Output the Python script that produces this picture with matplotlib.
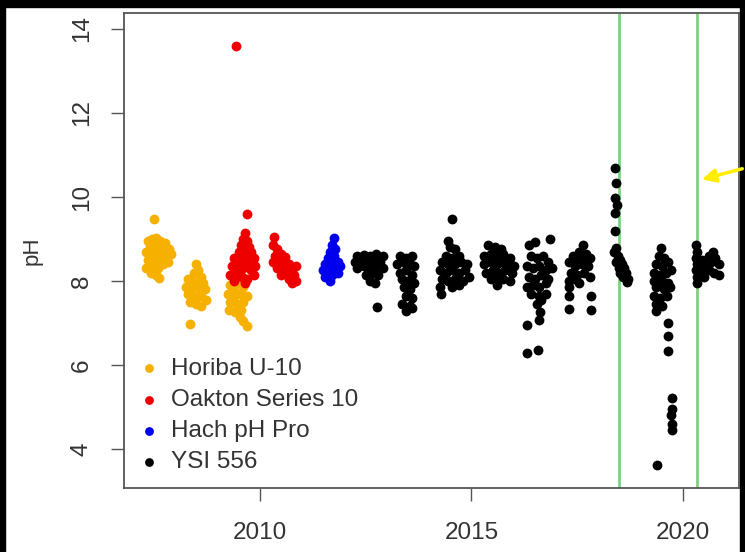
import matplotlib.pyplot as plt
from matplotlib.patches import Rectangle

plt.rcParams['font.family'] = ['Liberation Sans', 'DejaVu Sans']

# decimal year, pH for each instrument
horiba_year = [2007.49, 2007.35, 2007.45, 2007.55, 2007.65, 2007.75, 2007.3, 2007.4, 2007.5, 2007.6,
               2007.7, 2007.85, 2007.35, 2007.45, 2007.55, 2007.65, 2007.8, 2007.9, 2007.3, 2007.4,
               2007.5, 2007.6, 2007.7, 2007.82, 2007.42, 2007.55, 2007.62, 2007.38, 2007.58, 2007.75,
               2008.49, 2008.55, 2008.45, 2008.6, 2008.3, 2008.4, 2008.5, 2008.65, 2008.25, 2008.35,
               2008.55, 2008.7, 2008.3, 2008.45, 2008.6, 2008.72, 2008.35, 2008.5, 2008.62, 2008.35,
               2008.42, 2008.58, 2008.38,
               2009.35, 2009.5, 2009.65, 2009.3, 2009.45, 2009.6, 2009.25, 2009.4, 2009.55, 2009.7,
               2009.3, 2009.45, 2009.6, 2009.28, 2009.42, 2009.55, 2009.6, 2009.7, 2009.52, 2009.38]
horiba_ph = [9.48, 8.95, 9.0, 9.02, 8.95, 8.9, 8.7, 8.8, 8.75, 8.7,
             8.8, 8.75, 8.5, 8.6, 8.55, 8.5, 8.6, 8.65, 8.3, 8.35,
             8.4, 8.3, 8.4, 8.45, 8.2, 8.15, 8.07, 8.62, 8.88, 8.6,
             8.4, 8.25, 8.2, 8.1, 8.05, 8.0, 7.95, 7.95, 7.85, 7.8,
             7.85, 7.8, 7.7, 7.65, 7.65, 7.55, 7.5, 7.45, 7.4, 6.97,
             7.9, 7.72, 7.6,
             8.1, 8.15, 8.05, 7.9, 7.95, 7.85, 7.7, 7.75, 7.7, 7.65,
             7.5, 7.45, 7.5, 7.3, 7.25, 7.3, 7.05, 6.92, 7.15, 7.62]

oakton_year = [2009.43, 2009.69, 2009.65, 2009.6, 2009.7, 2009.55, 2009.75, 2009.5, 2009.62, 2009.78,
               2009.4, 2009.55, 2009.7, 2009.85, 2009.35, 2009.48, 2009.6, 2009.72, 2009.88, 2009.3,
               2009.45, 2009.58, 2009.7, 2009.85, 2009.4, 2009.65, 2009.52, 2009.66, 2009.8,
               2010.33, 2010.3, 2010.4, 2010.35, 2010.5, 2010.3, 2010.45, 2010.6, 2010.7, 2010.4,
               2010.55, 2010.75, 2010.85, 2010.5, 2010.65, 2010.8, 2010.7, 2010.85, 2010.75, 2010.6]
oakton_ph = [13.6, 9.6, 9.15, 9.0, 8.95, 8.85, 8.8, 8.7, 8.65, 8.7,
             8.55, 8.5, 8.5, 8.55, 8.35, 8.4, 8.3, 8.35, 8.35, 8.15,
             8.2, 8.1, 8.05, 8.15, 8.0, 7.95, 8.6, 8.78, 8.25,
             9.05, 8.85, 8.75, 8.6, 8.65, 8.45, 8.5, 8.45, 8.4, 8.3,
             8.3, 8.3, 8.35, 8.15, 8.2, 8.15, 8.05, 8.0, 7.95, 8.58]

hach_year = [2011.75, 2011.7, 2011.65, 2011.6, 2011.75, 2011.55, 2011.7, 2011.85, 2011.5, 2011.6,
             2011.8, 2011.9, 2011.55, 2011.7, 2011.85, 2011.65, 2011.78]
hach_ph = [9.02, 8.85, 8.7, 8.55, 8.6, 8.4, 8.45, 8.45, 8.25, 8.3,
           8.3, 8.35, 8.1, 8.15, 8.2, 8.0, 8.75]

ysi_year = [2012.3, 2012.45, 2012.6, 2012.75, 2012.9, 2012.25, 2012.4, 2012.55, 2012.7, 2012.85,
            2012.3, 2012.45, 2012.6, 2012.75, 2012.9, 2012.5, 2012.65, 2012.8, 2012.6, 2012.72, 2012.77,
            2013.3, 2013.45, 2013.6, 2013.25, 2013.4, 2013.55, 2013.65, 2013.3, 2013.45, 2013.6,
            2013.35, 2013.5, 2013.65, 2013.4, 2013.55, 2013.45, 2013.6, 2013.35, 2013.55, 2013.45, 2013.6,
            2014.54, 2014.45, 2014.5, 2014.6, 2014.4, 2014.55, 2014.7, 2014.3, 2014.45, 2014.6,
            2014.75, 2014.9, 2014.25, 2014.4, 2014.55, 2014.7, 2014.85, 2014.3, 2014.45, 2014.6,
            2014.8, 2014.95, 2014.25, 2014.55, 2014.7, 2014.28,
            2015.4, 2015.55, 2015.7, 2015.3, 2015.45, 2015.6, 2015.75, 2015.9, 2015.3, 2015.45,
            2015.6, 2015.75, 2015.9, 2016.0, 2015.35, 2015.5, 2015.65, 2015.8, 2015.95, 2015.45,
            2015.6, 2015.75, 2015.9, 2015.6,
            2016.5, 2016.86, 2016.35, 2016.4, 2016.55, 2016.7, 2016.8, 2016.3, 2016.45, 2016.6,
            2016.75, 2016.9, 2016.35, 2016.5, 2016.65, 2016.8, 2016.3, 2016.45, 2016.6, 2016.75,
            2016.4, 2016.6, 2016.75, 2016.55, 2016.65, 2016.62, 2016.6, 2016.32, 2016.32, 2016.58,
            2017.64, 2017.55, 2017.7, 2017.4, 2017.5, 2017.65, 2017.8, 2017.3, 2017.45, 2017.6,
            2017.75, 2017.35, 2017.5, 2017.65, 2017.8, 2017.3, 2017.45, 2017.3, 2017.55, 2017.3,
            2017.3, 2017.82, 2017.82,
            2018.4, 2018.42, 2018.4, 2018.43, 2018.4, 2018.38, 2018.42, 2018.36, 2018.45, 2018.5,
            2018.42, 2018.55, 2018.48, 2018.6, 2018.52, 2018.65, 2018.58, 2018.7, 2018.68,
            2019.48, 2019.42, 2019.55, 2019.35, 2019.5, 2019.65, 2019.3, 2019.45, 2019.6, 2019.72,
            2019.3, 2019.5, 2019.65, 2019.35, 2019.55, 2019.7, 2019.3, 2019.45, 2019.62, 2019.35,
            2019.5, 2019.35, 2019.64, 2019.64, 2019.64, 2019.74, 2019.74, 2019.72, 2019.74, 2019.74,
            2019.39,
            2020.3, 2020.32, 2020.3, 2020.33, 2020.3, 2020.33, 2020.32, 2020.45, 2020.5, 2020.6,
            2020.7, 2020.65, 2020.75, 2020.85, 2020.6, 2020.72, 2020.85, 2020.5, 2020.4]
ysi_ph = [8.6, 8.62, 8.6, 8.65, 8.6, 8.45, 8.5, 8.45, 8.5, 8.45,
          8.3, 8.35, 8.3, 8.35, 8.3, 8.15, 8.2, 8.15, 8.0, 7.95, 7.38,
          8.6, 8.55, 8.6, 8.4, 8.45, 8.4, 8.35, 8.2, 8.25, 8.15,
          8.05, 8.0, 7.95, 7.85, 7.8, 7.65, 7.6, 7.45, 7.4, 7.28, 7.35,
          9.48, 8.95, 8.8, 8.75, 8.6, 8.55, 8.6, 8.45, 8.4, 8.4,
          8.45, 8.4, 8.25, 8.2, 8.25, 8.2, 8.25, 8.05, 8.0, 8.05,
          8.0, 8.1, 7.85, 7.85, 7.9, 7.7,
          8.85, 8.8, 8.75, 8.6, 8.65, 8.6, 8.65, 8.55, 8.4, 8.45,
          8.4, 8.45, 8.4, 8.35, 8.2, 8.25, 8.2, 8.25, 8.2, 8.05,
          8.1, 8.05, 8.0, 7.9,
          8.93, 9.0, 8.85, 8.6, 8.55, 8.6, 8.45, 8.35, 8.3, 8.35,
          8.25, 8.3, 8.1, 8.05, 8.15, 8.05, 7.85, 7.9, 7.85, 7.95,
          7.7, 7.65, 7.7, 7.45, 7.55, 7.25, 7.07, 6.95, 6.28, 6.35,
          8.86, 8.7, 8.65, 8.6, 8.5, 8.5, 8.55, 8.45, 8.35, 8.4,
          8.35, 8.2, 8.15, 8.2, 8.1, 8.0, 8.05, 7.85, 7.95, 7.64,
          7.33, 7.64, 7.31,
          10.69, 10.33, 9.98, 9.82, 9.62, 9.2, 8.78, 8.7, 8.6, 8.5,
          8.45, 8.4, 8.3, 8.3, 8.2, 8.2, 8.1, 8.05, 7.98,
          8.79, 8.6, 8.55, 8.4, 8.35, 8.45, 8.2, 8.15, 8.2, 8.25,
          8.0, 8.0, 7.95, 7.85, 7.8, 7.85, 7.65, 7.6, 7.65, 7.45,
          7.4, 7.28, 7.0, 6.69, 6.33, 5.21, 4.95, 4.8, 4.6, 4.45,
          3.62,
          8.85, 8.7, 8.55, 8.4, 8.25, 8.1, 7.95, 8.5, 8.35, 8.6,
          8.7, 8.45, 8.55, 8.4, 8.25, 8.2, 8.15, 8.1, 8.2]

instruments = ['Horiba U-10', 'Oakton Series 10', 'Hach pH Pro', 'YSI 556']
colors = ['#f5b000', '#ee0000', '#0000ee', 'black']
change_dates = [2018.48, 2020.33]

fig = plt.figure(figsize=(7.45, 5.52), dpi=100)
ax = fig.add_axes([124 / 745, 1 - 488 / 552, 615 / 745, 475 / 552])

series = [(horiba_year, horiba_ph), (oakton_year, oakton_ph),
          (hach_year, hach_ph), (ysi_year, ysi_ph)]
for (x, y), name, c in zip(series, instruments, colors):
    ax.scatter(x, y, s=50, color=c, linewidths=0, label=name, zorder=3)

for d in change_dates:
    ax.axvline(d, color='#80d080', lw=2, zorder=2)

ax.set_xlim(2006.79, 2021.32)
ax.set_ylim(3.07, 14.38)
ax.set_xticks([2010, 2015, 2020])
ax.set_yticks([4, 6, 8, 10, 12, 14])
ax.tick_params(axis='both', length=9.5, width=1, color='#555555',
               labelsize=17.5, labelcolor='#333333')
ax.tick_params(axis='x', pad=15)
ax.tick_params(axis='y', pad=13)
for lab in ax.get_yticklabels():
    lab.set_rotation(90)
    lab.set_va('center')
for sp in ax.spines.values():
    sp.set_color('#555555')
    sp.set_linewidth(1.3)
ax.set_ylabel('pH', fontsize=16, color='#333333', labelpad=20)

leg = ax.legend(loc='lower left', bbox_to_anchor=(-0.01, 0.0), frameon=False,
                fontsize=17.5, handletextpad=0.2, handlelength=1.4,
                labelspacing=0.38, borderaxespad=0.2, labelcolor='#333333')
for h in leg.legend_handles:
    h.set_sizes([40])

# yellow arrow pointing at the second line
ax.annotate('', xy=(2020.38, 10.4), xycoords='data',
            xytext=(745, 552 - 168), textcoords='figure pixels',
            arrowprops=dict(arrowstyle='-|>,head_length=0.8,head_width=0.4',
                            color='#ffee00', lw=2.5),
            annotation_clip=False, zorder=10)

# black screenshot border
for r in [(0, 0, 5, 552), (0, 545, 745, 7), (740, 0, 5, 552)]:
    fig.add_artist(Rectangle((r[0] / 745, r[1] / 552), r[2] / 745, r[3] / 552,
                             transform=fig.transFigure, color='black', zorder=0))

fig.savefig('out.png', dpi=100)
